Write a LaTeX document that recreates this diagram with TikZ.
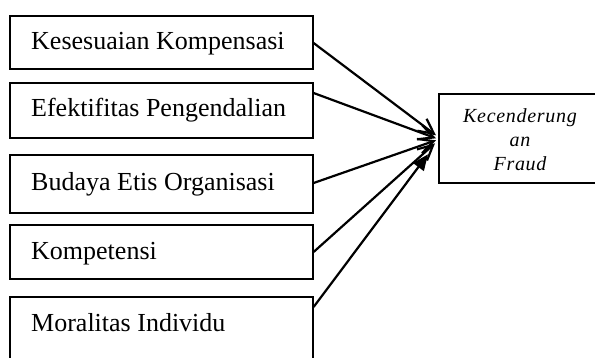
\documentclass[tikz,border=0pt]{standalone}
\usepackage{fontspec}
\setmainfont{Liberation Serif}
\newfontfamily\spacedit[LetterSpace=3.5]{Liberation Serif}
\usetikzlibrary{arrows.meta}
\tikzset{
  box/.style={draw=black, line width=1.6pt, rectangle, inner sep=0pt, anchor=north west},
  lbl/.style={inner sep=0pt, anchor=base west, font=\fontsize{26}{30}\selectfont},
  tlbl/.style={inner sep=0pt, anchor=base, font=\spacedit\fontsize{20}{24}\selectfont\itshape},
  conn/.style={line width=2.2pt, -{Straight Barb[length=15pt,width=15pt,line width=2.2pt]}},
  connf/.style={line width=2.2pt, -{Triangle[length=16pt,width=13pt]}}
}
\begin{document}
\begin{tikzpicture}[x=1pt,y=-1pt]
\useasboundingbox (0,0) rectangle (595,358);
\clip (0,0) rectangle (595,358);
% left boxes
\node[box, minimum width=303pt, minimum height=53pt] (b1) at (9,15) {};
\node[box, minimum width=303pt, minimum height=55pt] (b2) at (9,82) {};
\node[box, minimum width=303pt, minimum height=58pt] (b3) at (9,154) {};
\node[box, minimum width=303pt, minimum height=54pt] (b4) at (9,224) {};
\node[box, minimum width=303pt, minimum height=70pt] (b5) at (9,296) {};
\node[lbl] (l1) at (31,50) {Kesesuaian Kompensasi};
\node[lbl] (l2) at (31,117) {Efektifitas Pengendalian};
\node[lbl] (l3) at (31,191) {Budaya Etis Organisasi};
\node[lbl] (l4) at (31,260) {Kompetensi};
\node[lbl] (l5) at (31,332) {Moralitas Individu};
% target box
\node[box, minimum width=164pt, minimum height=89pt] (t) at (438,93) {};
\node[tlbl] (t1) at (520,123) {Kecenderung};
\node[tlbl] (t2) at (520,147) {an};
\node[tlbl] (t3) at (520,171) {Fraud};
% connectors
\draw[conn] ([yshift=-28pt]b1.north east) -- ([xshift=-2pt,yshift=3pt]t.west);
\draw[conn] ([yshift=-11pt]b2.north east) -- ([xshift=-2pt,yshift=0pt]t.west);
\draw[conn] ([yshift=-29pt]b3.north east) -- ([xshift=-2pt,yshift=-2pt]t.west);
\draw[conn] ([yshift=-28pt]b4.north east) -- ([xshift=-3pt,yshift=-5pt]t.west);
\draw[connf] ([yshift=-11pt]b5.north east) -- ([xshift=-10pt,yshift=-16pt]t.west);
\end{tikzpicture}
\end{document}
